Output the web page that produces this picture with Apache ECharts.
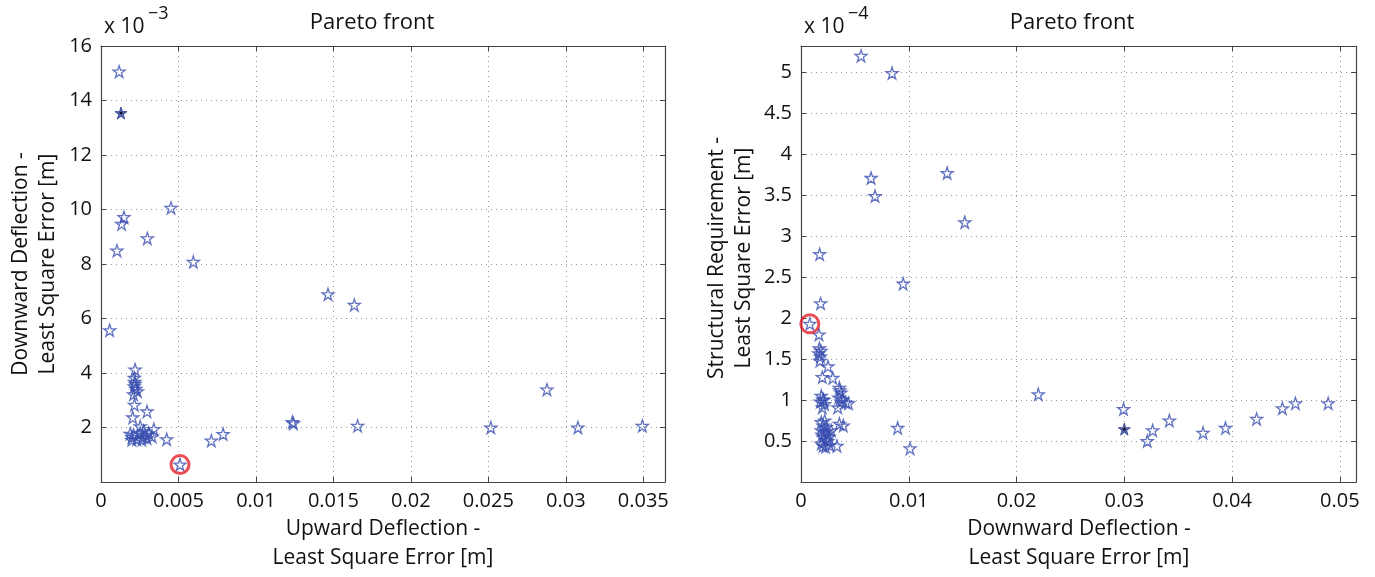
<!DOCTYPE html>
<html><head><meta charset="utf-8">
<script src="https://cdn.jsdelivr.net/npm/echarts@6/dist/echarts.min.js"></script>
<style>html,body{margin:0;padding:0;background:#fff}#c{width:1375px;height:577px}</style>
</head><body><div id="c"></div>
<script>
// ---------- LEFT PANEL: Upward deflection LSE [m] vs Downward deflection LSE [x1e-3 m]
const leftX = [0.00117,0.00148,0.00133,0.00103,0.00299,0.00452,0.00596,0.01465,0.01635,0.00056,
  0.00220,0.00215,0.00218,0.00220,0.00215,0.00225,0.00235,0.00210,0.00216,0.00297,0.00205,0.00253,0.00341,
  0.00188,0.00210,0.00253,0.00286,0.00308,0.00199,0.00231,0.00264,0.00297,0.00330,0.00275,0.00200,0.00270,
  0.00424,0.00712,0.00788,0.01235,0.01242,0.01656,0.02516,0.02878,0.03078,0.03494,0.00510];
const leftY = [15.06,9.72,9.47,8.49,8.94,10.06,8.08,6.89,6.50,5.57,
  4.13,3.82,3.68,3.60,3.51,3.42,3.33,3.22,2.83,2.59,2.37,2.04,1.94,
  1.77,1.73,1.80,1.73,1.79,1.55,1.57,1.55,1.61,1.67,1.87,1.65,1.65,
  1.57,1.52,1.76,2.20,2.15,2.06,2.00,3.39,2.00,2.06,0.64];
const leftFilledX = [0.00129];
const leftFilledY = [13.54];
const leftPickX = [0.00510];
const leftPickY = [0.64];
const leftXTicks = [0,0.005,0.01,0.015,0.02,0.025,0.03,0.035];
const leftYTicks = [2,4,6,8,10,12,14,16];

// ---------- RIGHT PANEL: Downward deflection LSE [m] vs Structural requirement LSE [x1e-4]
const rightX = [0.00557,0.00845,0.00650,0.00687,0.01356,0.01520,0.00173,0.00948,0.00182,0.00082,0.00167,
  0.00170,0.00185,0.00165,0.00180,0.00175,0.00250,0.00198,0.00295,
  0.00188,0.00204,0.00179,0.00219,0.00198,0.00356,0.00371,0.00350,0.00386,0.00416,0.00341,0.00441,0.00360,0.00210,0.00370,
  0.00188,0.00204,0.00234,0.00188,0.00219,0.00249,0.00204,0.00234,0.00188,0.00228,0.00264,0.00204,0.00249,0.00280,0.00220,0.00260,0.00195,0.00240,
  0.00356,0.00392,0.00334,0.00897,0.01012,0.02202,0.02993,0.03213,0.03263,0.03418,0.03731,0.03939,0.04228,0.04467,0.04588,0.04892];
const rightY = [5.20,4.99,3.71,3.49,3.77,3.17,2.78,2.42,2.18,1.93,1.80,
  1.63,1.60,1.57,1.53,1.48,1.41,1.28,1.27,
  1.05,1.01,0.98,0.95,0.91,1.15,1.09,1.03,1.01,0.97,0.91,0.96,1.12,1.00,0.98,
  0.73,0.69,0.67,0.63,0.61,0.59,0.55,0.51,0.47,0.43,0.45,0.44,0.50,0.63,0.75,0.55,0.58,0.62,
  0.71,0.69,0.44,0.66,0.41,1.07,0.89,0.50,0.63,0.75,0.60,0.66,0.77,0.90,0.96,0.96];
const rightFilledX = [0.03000];
const rightFilledY = [0.645];
const rightPickX = [0.00082];
const rightPickY = [1.93];
const rightXTicks = [0,0.01,0.02,0.03,0.04,0.05];
const rightYTicks = [0.5,1,1.5,2,2.5,3,3.5,4,4.5,5];

const FONT = "'Open Sans', sans-serif";
const STAR = 'path://M50,0L61.2,34.5L97.6,34.5L68.2,55.9L79.4,90.5L50,69.1L20.6,90.5L31.8,55.9L2.4,34.5L38.8,34.5Z';
const BLUE = '#3a4fb0';
const zip = (a,b) => a.map((v,i)=>[v,b[i]]);
const onTick = (ticks) => (v) => ticks.some(t => Math.abs(t - v) < 1e-9) ? String(+v.toFixed(4)) : '';

const AX_COLOR = '#444';
function xAxes(gi, min, max, interval, ticks) {
  const base = {gridIndex: gi, type: 'value', min, max, interval,
    axisLine: {show: true, onZero: false, lineStyle: {color: AX_COLOR, width: 1.2}},
    axisTick: {show: true, inside: true, length: 5, lineStyle: {color: AX_COLOR}}};
  return [
    Object.assign({}, base, {position: 'bottom',
      axisLabel: {show: true, color: '#111', fontFamily: FONT, fontSize: 20, margin: 9, formatter: onTick(ticks)},
      splitLine: {show: true, lineStyle: {color: '#999', type: [1, 4], width: 1}}}),
    Object.assign({}, base, {position: 'top', axisLabel: {show: false}, splitLine: {show: false}})
  ];
}
function yAxes(gi, min, max, interval, ticks) {
  const base = {gridIndex: gi, type: 'value', min, max, interval,
    axisLine: {show: true, onZero: false, lineStyle: {color: AX_COLOR, width: 1.2}},
    axisTick: {show: true, inside: true, length: 5, lineStyle: {color: AX_COLOR}}};
  return [
    Object.assign({}, base, {position: 'left',
      axisLabel: {show: true, color: '#111', fontFamily: FONT, fontSize: 20, margin: 9, formatter: onTick(ticks)},
      splitLine: {show: true, lineStyle: {color: '#999', type: [1, 4], width: 1}}}),
    Object.assign({}, base, {position: 'right', axisLabel: {show: false}, splitLine: {show: false}})
  ];
}

function starSeries(xi, yi, data) {
  return {type: 'scatter', xAxisIndex: xi, yAxisIndex: yi, data, symbol: STAR, symbolSize: 12,
    itemStyle: {color: 'rgba(0,0,0,0)', borderColor: BLUE, borderWidth: 1.3}, z: 3};
}
function filledSeries(xi, yi, data) {
  return [
    {type: 'scatter', xAxisIndex: xi, yAxisIndex: yi, data, symbol: STAR, symbolSize: 12,
      itemStyle: {color: '#33479f', borderColor: '#2a3b90', borderWidth: 1}, z: 4},
    {type: 'scatter', xAxisIndex: xi, yAxisIndex: yi, data, symbol: 'circle', symbolSize: 3,
      itemStyle: {color: '#000'}, z: 5}
  ];
}
function pickSeries(xi, yi, data) {
  return {type: 'scatter', xAxisIndex: xi, yAxisIndex: yi, data, symbol: 'circle', symbolSize: 18,
    itemStyle: {color: 'rgba(0,0,0,0)', borderColor: '#e5222a', borderWidth: 3}, z: 6};
}

const txt = (x, y, text, size, extra) => ({type: 'text', x, y, silent: true,
  style: Object.assign({text, fill: '#111', font: size + 'px ' + FONT, textAlign: 'center', textVerticalAlign: 'middle'}, extra || {})});

const chart = echarts.init(document.getElementById('c'), null, {renderer: 'canvas'});
chart.setOption({
  animation: false,
  backgroundColor: '#fff',
  grid: [
    {left: 101, top: 46, width: 564, height: 436},
    {left: 801, top: 46, width: 555, height: 436}
  ],
  xAxis: [].concat(xAxes(0, 0, 0.0364, 0.005, leftXTicks), xAxes(1, 0, 0.0515, 0.01, rightXTicks)),
  yAxis: [].concat(yAxes(0, 0, 16, 2, leftYTicks), yAxes(1, 0, 5.32, 0.5, rightYTicks)),
  series: [
    starSeries(0, 0, zip(leftX, leftY)),
    ...filledSeries(0, 0, zip(leftFilledX, leftFilledY)),
    pickSeries(0, 0, zip(leftPickX, leftPickY)),
    starSeries(2, 2, zip(rightX, rightY)),
    ...filledSeries(2, 2, zip(rightFilledX, rightFilledY)),
    pickSeries(2, 2, zip(rightPickX, rightPickY))
  ],
  graphic: [
    txt(372, 23, 'Pareto front', 22),
    txt(1072, 23, 'Pareto front', 22),
    txt(104, 27, 'x 10', 21, {textAlign: 'left'}),
    txt(148, 14, '\u22123', 18, {textAlign: 'left'}),
    txt(804, 27, 'x 10', 21, {textAlign: 'left'}),
    txt(848, 14, '\u22124', 18, {textAlign: 'left'}),
    Object.assign(txt(35, 264, 'Downward Deflection -\nLeast Square Error [m]', 21, {lineHeight: 27}), {rotation: Math.PI / 2}),
    Object.assign(txt(731, 258, 'Structural Requirement -\nLeast Square Error [m]', 21, {lineHeight: 27}), {rotation: Math.PI / 2}),
    txt(383, 544, 'Upward Deflection -\nLeast Square Error [m]', 21, {lineHeight: 29}),
    txt(1079, 544, 'Downward Deflection -\nLeast Square Error [m]', 21, {lineHeight: 29})
  ]
});
</script></body></html>
